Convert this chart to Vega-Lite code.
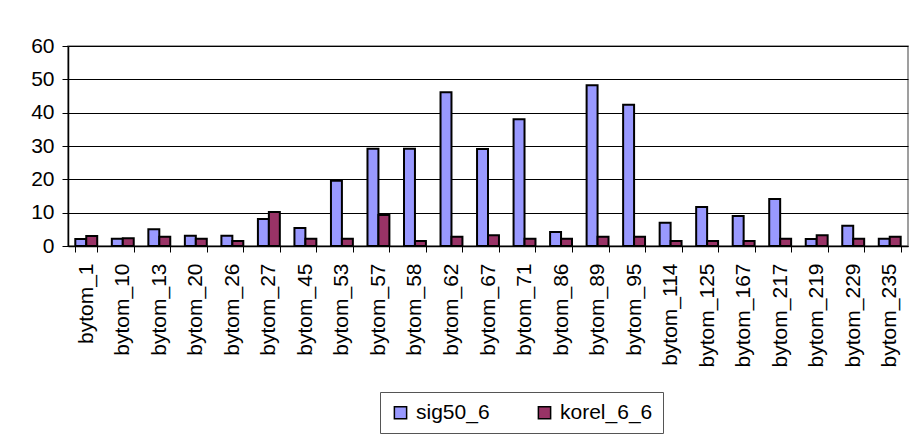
{
  "$schema": "https://vega.github.io/schema/vega-lite/v6.json",
  "width": 840,
  "height": 200,
  "autosize": {"type": "none"},
  "padding": {"left": 68, "top": 46, "right": 8, "bottom": 190},
  "background": "white",
  "config": {
    "font": "Liberation Sans",
    "view": {"stroke": "#808080", "strokeWidth": 1.5}
  },
  "data": {
    "values": [
      {"cat": "bytom_1", "series": "sig50_6", "v": 2.1}, {"cat": "bytom_1", "series": "korel_6_6", "v": 3.0},
      {"cat": "bytom_10", "series": "sig50_6", "v": 2.2}, {"cat": "bytom_10", "series": "korel_6_6", "v": 2.3},
      {"cat": "bytom_13", "series": "sig50_6", "v": 5.0}, {"cat": "bytom_13", "series": "korel_6_6", "v": 2.8},
      {"cat": "bytom_20", "series": "sig50_6", "v": 3.1}, {"cat": "bytom_20", "series": "korel_6_6", "v": 2.2},
      {"cat": "bytom_26", "series": "sig50_6", "v": 3.1}, {"cat": "bytom_26", "series": "korel_6_6", "v": 1.5},
      {"cat": "bytom_27", "series": "sig50_6", "v": 8.1}, {"cat": "bytom_27", "series": "korel_6_6", "v": 10.2},
      {"cat": "bytom_45", "series": "sig50_6", "v": 5.4}, {"cat": "bytom_45", "series": "korel_6_6", "v": 2.2},
      {"cat": "bytom_53", "series": "sig50_6", "v": 19.6}, {"cat": "bytom_53", "series": "korel_6_6", "v": 2.2},
      {"cat": "bytom_57", "series": "sig50_6", "v": 29.2}, {"cat": "bytom_57", "series": "korel_6_6", "v": 9.3},
      {"cat": "bytom_58", "series": "sig50_6", "v": 29.2}, {"cat": "bytom_58", "series": "korel_6_6", "v": 1.5},
      {"cat": "bytom_62", "series": "sig50_6", "v": 46.1}, {"cat": "bytom_62", "series": "korel_6_6", "v": 2.8},
      {"cat": "bytom_67", "series": "sig50_6", "v": 29.1}, {"cat": "bytom_67", "series": "korel_6_6", "v": 3.2},
      {"cat": "bytom_71", "series": "sig50_6", "v": 38.0}, {"cat": "bytom_71", "series": "korel_6_6", "v": 2.2},
      {"cat": "bytom_86", "series": "sig50_6", "v": 4.2}, {"cat": "bytom_86", "series": "korel_6_6", "v": 2.2},
      {"cat": "bytom_89", "series": "sig50_6", "v": 48.2}, {"cat": "bytom_89", "series": "korel_6_6", "v": 2.8},
      {"cat": "bytom_95", "series": "sig50_6", "v": 42.4}, {"cat": "bytom_95", "series": "korel_6_6", "v": 2.8},
      {"cat": "bytom_114", "series": "sig50_6", "v": 7.0}, {"cat": "bytom_114", "series": "korel_6_6", "v": 1.5},
      {"cat": "bytom_125", "series": "sig50_6", "v": 11.7}, {"cat": "bytom_125", "series": "korel_6_6", "v": 1.5},
      {"cat": "bytom_167", "series": "sig50_6", "v": 9.0}, {"cat": "bytom_167", "series": "korel_6_6", "v": 1.5},
      {"cat": "bytom_217", "series": "sig50_6", "v": 14.1}, {"cat": "bytom_217", "series": "korel_6_6", "v": 2.2},
      {"cat": "bytom_219", "series": "sig50_6", "v": 2.1}, {"cat": "bytom_219", "series": "korel_6_6", "v": 3.2},
      {"cat": "bytom_229", "series": "sig50_6", "v": 6.1}, {"cat": "bytom_229", "series": "korel_6_6", "v": 2.2},
      {"cat": "bytom_235", "series": "sig50_6", "v": 2.2}, {"cat": "bytom_235", "series": "korel_6_6", "v": 2.8}
    ]
  },
  "mark": {"type": "bar", "stroke": "black", "strokeWidth": 2},
  "encoding": {
    "x": {
      "field": "cat", "type": "nominal", "sort": null,
      "scale": {"paddingInner": 0.4, "paddingOuter": 0.2},
      "axis": {
        "title": null, "labelAngle": -90, "labelFontSize": 21, "labelColor": "black",
        "tickBand": "extent", "tickColor": "black", "tickSize": 6, "domainColor": "black",
        "domainWidth": 1.5, "labelPadding": 11, "labelFont": "Liberation Sans"
      }
    },
    "xOffset": {
      "field": "series", "type": "nominal", "sort": ["sig50_6", "korel_6_6"],
      "scale": {"paddingInner": 0, "paddingOuter": 0}
    },
    "y": {
      "field": "v", "type": "quantitative",
      "scale": {"domain": [0, 60], "nice": false},
      "axis": {
        "title": null, "values": [0, 10, 20, 30, 40, 50, 60], "labelFontSize": 21,
        "labelColor": "black", "gridColor": "black", "gridOpacity": 1, "gridWidth": 1.2,
        "tickColor": "black", "tickSize": 6, "domainColor": "black", "domainWidth": 1.5,
        "labelPadding": 8, "labelFont": "Liberation Sans"
      }
    },
    "color": {
      "field": "series", "type": "nominal",
      "scale": {"domain": ["sig50_6", "korel_6_6"], "range": ["#9999FF", "#993366"]},
      "legend": {
        "title": null, "orient": "none", "direction": "horizontal",
        "legendX": 312, "legendY": 346,
        "strokeColor": "#555555", "padding": 10, "fillColor": "white",
        "symbolType": "square", "symbolSize": 150, "symbolStrokeColor": "black",
        "symbolStrokeWidth": 1.5, "symbolOpacity": 1,
        "labelFontSize": 21, "labelColor": "black", "labelFont": "Liberation Sans",
        "columnPadding": 44, "labelOffset": 5
      }
    }
  }
}
